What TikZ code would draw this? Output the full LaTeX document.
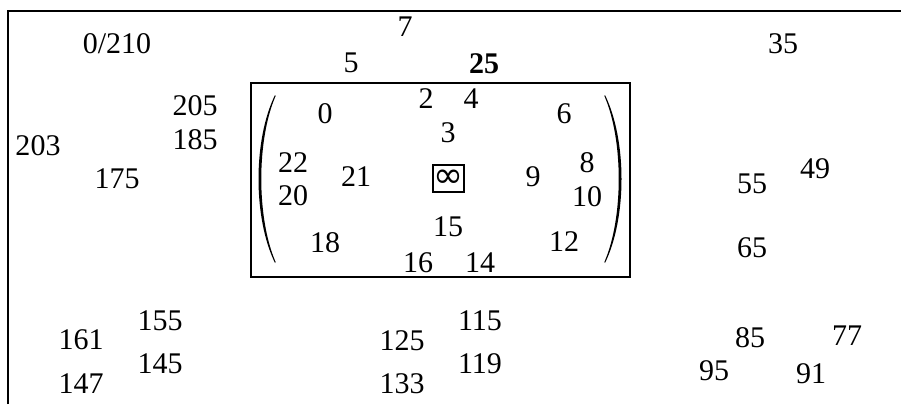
\documentclass[tikz,border=0pt]{standalone}
\usepackage{fontspec}
\setmainfont{Liberation Serif}
\newfontfamily\symfnt{DejaVu Sans}
\begin{document}
\begin{tikzpicture}[x=1pt,y=-1pt,
  num/.style={font=\fontsize{30}{30}\selectfont, inner sep=0pt, anchor=base},
  bnum/.style={font=\fontsize{30}{30}\selectfont\bfseries, inner sep=0pt, anchor=base},
  frame/.style={line width=2pt},
  infbox/.style={draw, line width=1.5pt, minimum width=31pt, minimum height=27pt, inner sep=0pt, font=\fontsize{36}{36}\symfnt}]
\useasboundingbox (0,0) rectangle (901,404);
% outer frame
\draw[frame] (8,404) -- (8,11) -- (905,11);
% inner box
\draw[frame] (251,83) rectangle (630,277);
% parentheses
\fill (275,95) .. controls (253,140) and (253,218) .. (275,263)
  -- (275.6,262) .. controls (256.5,218) and (256.5,140) .. (275.6,96) -- cycle;
\fill (605,95) .. controls (627,140) and (627,218) .. (605,263)
  -- (604.4,262) .. controls (623.5,218) and (623.5,140) .. (604.4,96) -- cycle;
% labels outside
\node[num] (n0210) at (117,53) {0/210};
\node[num] (n7) at (405,37) {7};
\node[num] (n5) at (351,72) {5};
\node[bnum] (n25) at (484,73) {25};
\node[num] (n35) at (783,53) {35};
\node[num] (n205) at (195,115) {205};
\node[num] (n185) at (195,149) {185};
\node[num] (n203) at (38,155) {203};
\node[num] (n175) at (117,188) {175};
% inside matrix
\node[num] (m0) at (325,123) {0};
\node[num] (m2) at (426,108) {2};
\node[num] (m4) at (471,108) {4};
\node[num] (m3) at (448,142) {3};
\node[num] (m6) at (564,123) {6};
\node[num] (m22) at (293,172) {22};
\node[num] (m20) at (293,205) {20};
\node[num] (m21) at (356,186) {21};
\node[infbox] (minf) at (448.5,178.5) {∞};
\node[num] (m9) at (533,186) {9};
\node[num] (m8) at (587,172) {8};
\node[num] (m10) at (587,206) {10};
\node[num] (m15) at (448,236) {15};
\node[num] (m18) at (325,252) {18};
\node[num] (m12) at (564,251) {12};
\node[num] (m16) at (418,272) {16};
\node[num] (m14) at (480,272) {14};
% right side
\node[num] (n55) at (752,193) {55};
\node[num] (n49) at (815,178) {49};
\node[num] (n65) at (752,257) {65};
\node[num] (n85) at (750,347) {85};
\node[num] (n77) at (847,345) {77};
\node[num] (n95) at (714,380) {95};
\node[num] (n91) at (811,383) {91};
% bottom left
\node[num] (n155) at (160,330) {155};
\node[num] (n161) at (81,349) {161};
\node[num] (n145) at (160,373) {145};
\node[num] (n147) at (81,393) {147};
% bottom middle
\node[num] (n125) at (402,350) {125};
\node[num] (n133) at (402,393) {133};
\node[num] (n115) at (480,330) {115};
\node[num] (n119) at (480,373) {119};
\end{tikzpicture}
\end{document}
